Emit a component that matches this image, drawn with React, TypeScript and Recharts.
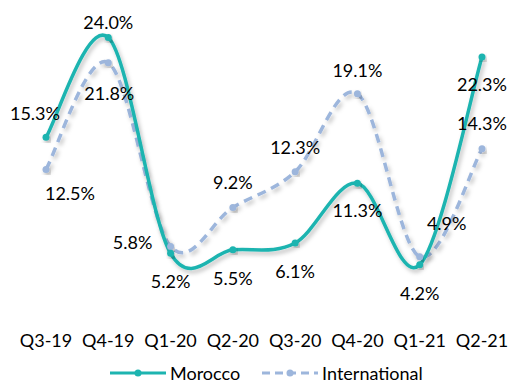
import React from 'react';
import { LineChart, Line, XAxis, YAxis, LabelList } from 'recharts';

const quarters = ['Q3-19', 'Q4-19', 'Q1-20', 'Q2-20', 'Q3-20', 'Q4-20', 'Q1-21', 'Q2-21'];
const morocco = [15.3, 24.0, 5.2, 5.5, 6.1, 11.3, 4.2, 22.3];
const international = [12.5, 21.8, 5.8, 9.2, 12.3, 19.1, 4.9, 14.3];

const TEAL = '#1db4b0';
const STEEL = '#9db6dc';
const FONT = 'Lato, "Open Sans", sans-serif';
const TEXT_SIZE = 18;

// label placement relative to each point (dx, dy)
const moroccoLabelShift = [[-11, -24], [0, -15], [0, 28], [0, 28], [0, 28], [0, 27], [0, 28], [0, 27]];
const intlLabelShift = [[24, 23], [1, 30], [-38, -4], [0, -25], [0, -25], [0, -24], [27, -34], [0, -26]];

const data = quarters.map((q, i) => ({ q, morocco: morocco[i], international: international[i] }));

// Catmull-Rom style smoothing, close to the spreadsheet "smoothed line"
const smooth = (context: any) => {
  let pts: number[][] = [];
  return {
    areaStart() {},
    areaEnd() {},
    lineStart() {
      pts = [];
    },
    point(x: number, y: number) {
      pts.push([+x, +y]);
    },
    lineEnd() {
      if (!pts.length) return;
      context.moveTo(pts[0][0], pts[0][1]);
      for (let i = 0; i < pts.length - 1; i++) {
        const p0 = pts[i - 1] || pts[i];
        const p1 = pts[i];
        const p2 = pts[i + 1];
        const p3 = pts[i + 2] || p2;
        context.bezierCurveTo(
          p1[0] + (p2[0] - p0[0]) / 6,
          p1[1] + (p2[1] - p0[1]) / 6,
          p2[0] - (p3[0] - p1[0]) / 6,
          p2[1] - (p3[1] - p1[1]) / 6,
          p2[0],
          p2[1]
        );
      }
    },
  };
};

const makeLabel = (shift: number[][]) => (props: any) => {
  const { x, y, value, index } = props;
  const [dx, dy] = shift[index] || [0, 0];
  return (
    <text
      x={x + dx}
      y={y + dy}
      textAnchor="middle"
      dominantBaseline="central"
      fill="#000"
      fontSize={TEXT_SIZE}
      fontFamily={FONT}
    >
      {value.toFixed(1)}%
    </text>
  );
};

const LegendItem = ({ color, dashed, label }: { color: string; dashed?: boolean; label: string }) => (
  <div style={{ display: 'flex', alignItems: 'center', marginRight: 22 }}>
    <svg width={56} height={10} style={{ marginRight: 4 }}>
      <line x1={0} y1={5} x2={56} y2={5} stroke={color} strokeWidth={3} strokeDasharray={dashed ? '8 5' : undefined} />
      <circle cx={28} cy={5} r={3.5} fill={color} />
    </svg>
    <span>{label}</span>
  </div>
);

export default function App() {
  return (
    <div style={{ position: 'absolute', left: 0, top: 0, width: 509, height: 385, background: '#fff', overflow: 'hidden' }}>
      <LineChart width={509} height={385} data={data} margin={{ top: 26, right: 27, left: 46, bottom: 42 }}>
        <defs>
          <filter id="lineShadow" x="-10%" y="-10%" width="120%" height="130%">
            <feDropShadow dx="2" dy="3" stdDeviation="2" floodColor="#000" floodOpacity="0.25" />
          </filter>
        </defs>
        <XAxis
          dataKey="q"
          axisLine={false}
          tickLine={false}
          height={30}
          tickMargin={15}
          tick={{ fill: '#000', fontSize: TEXT_SIZE, fontFamily: FONT }}
          interval={0}
        />
        <YAxis hide domain={[0, 25]} />
        <Line
          dataKey="international"
          type={smooth as any}
          stroke={STEEL}
          strokeWidth={3.5}
          strokeDasharray="9 6"
          dot={{ r: 3.5, fill: STEEL, stroke: STEEL, strokeWidth: 0 }}
          filter="url(#lineShadow)"
          isAnimationActive={false}
        >
          <LabelList dataKey="international" content={makeLabel(intlLabelShift)} />
        </Line>
        <Line
          dataKey="morocco"
          type={smooth as any}
          stroke={TEAL}
          strokeWidth={3.5}
          dot={{ r: 3.5, fill: TEAL, stroke: TEAL, strokeWidth: 0 }}
          filter="url(#lineShadow)"
          isAnimationActive={false}
        >
          <LabelList dataKey="morocco" content={makeLabel(moroccoLabelShift)} />
        </Line>
      </LineChart>
      <div
        style={{
          position: 'absolute',
          left: 110,
          top: 363,
          display: 'flex',
          fontFamily: FONT,
          fontSize: TEXT_SIZE,
          color: '#000',
          lineHeight: '20px',
        }}
      >
        <LegendItem color={TEAL} label="Morocco" />
        <LegendItem color={STEEL} dashed label="International" />
      </div>
    </div>
  );
}
